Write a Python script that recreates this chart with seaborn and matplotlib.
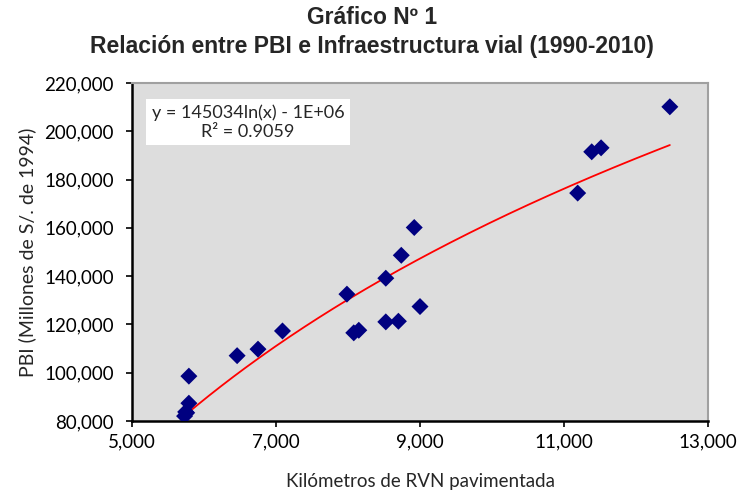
import numpy as np
import pandas as pd
import seaborn as sns
import matplotlib.pyplot as plt
from matplotlib.ticker import FuncFormatter

# Data (1990-2010)
years = list(range(1990, 2011))
km_rvn = [5730, 5745, 5760, 5790, 5790, 6460, 6750, 7090, 8080, 8150, 8525,
          8700, 9000, 7985, 8525, 8740, 8920, 11190, 11385, 11515, 12470]
pbi = [82032, 83760, 83401, 87375, 98577, 107064, 109760, 117294, 116522, 117587,
       121057, 121317, 127407, 132545, 139141, 148640, 160145, 174407, 191505,
       193155, 210143]

eq_text = "y = 145034ln(x) - 1E+06\nR² = 0.9059"

df = pd.DataFrame({"year": years, "km": km_rvn, "pbi": pbi})

sns.set_theme(style="white")
plt.rcParams['font.family'] = ['Lato', 'DejaVu Sans']

fig, ax = plt.subplots(figsize=(7.44, 4.92), dpi=100)
fig.subplots_adjust(left=132 / 744, right=708 / 744, top=1 - 83 / 492, bottom=1 - 421 / 492)
ax.set_facecolor("#DDDDDD")

# logarithmic trend line fitted to the points
b, a = np.polyfit(np.log(df["km"]), df["pbi"], 1)
xs = np.linspace(df["km"].min(), df["km"].max(), 200)
sns.lineplot(x=xs, y=b * np.log(xs) + a, color="red", lw=1.3, ax=ax, zorder=2)

sns.scatterplot(data=df, x="km", y="pbi", marker="D", s=75, color="#000080",
                edgecolor="none", ax=ax, zorder=3)

ax.set_xlim(5000, 13000)
ax.set_ylim(80000, 220000)
ax.set_xticks(range(5000, 13001, 2000))
ax.set_yticks(range(80000, 220001, 20000))
fmt = FuncFormatter(lambda v, p: f"{v:,.0f}")
ax.xaxis.set_major_formatter(fmt)
ax.yaxis.set_major_formatter(fmt)
ax.tick_params(axis="both", direction="out", length=4, width=1.2, labelsize=13.5,
               bottom=True, left=True, colors="black")
ax.tick_params(axis="x", pad=5)
ax.tick_params(axis="y", pad=9)

for side in ["left", "bottom"]:
    ax.spines[side].set_color("black")
    ax.spines[side].set_linewidth(1.8)
for side in ["top", "right"]:
    ax.spines[side].set_color("#A0A0A0")
    ax.spines[side].set_linewidth(1.5)

ax.set_xlabel("Kilómetros de RVN pavimentada", fontsize=13.5, labelpad=16)
ax.set_ylabel("PBI (Millones de S/. de 1994)", fontsize=14, labelpad=6)

ax.text(0.2014, 0.8846, eq_text, transform=ax.transAxes, ha="center", va="center",
        fontsize=13, linespacing=1.25,
        bbox=dict(facecolor="white", edgecolor="none", boxstyle="square,pad=0.3"))

fig.suptitle("Gráfico Nº 1\nRelación entre PBI e Infraestructura vial (1990-2010)",
             fontsize=16.5, fontweight="bold", family=["Liberation Sans", "DejaVu Sans"],
             y=0.988, linespacing=1.35)

plt.savefig("out.png", dpi=100)
